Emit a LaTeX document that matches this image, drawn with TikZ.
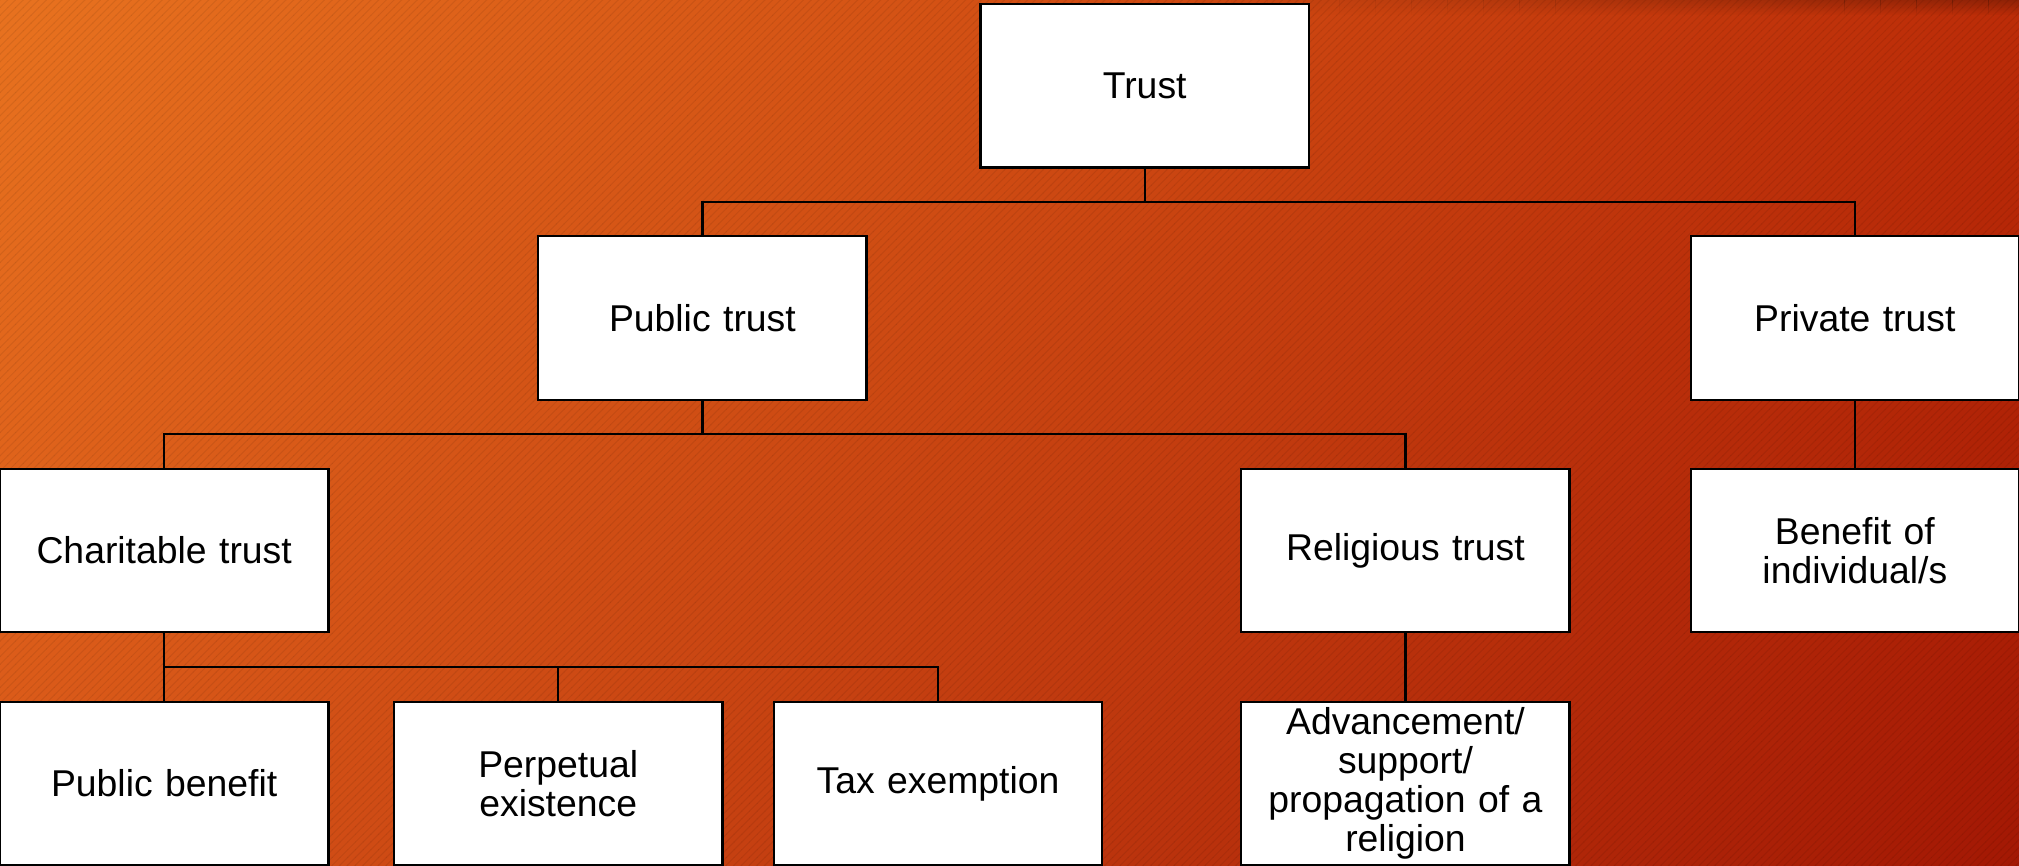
\documentclass[tikz,border=0pt]{standalone}
\usepackage{fontspec}
\setmainfont{Liberation Sans}
\usetikzlibrary{patterns,fadings,shadings}

\definecolor{bgTL}{HTML}{E8721F}
\definecolor{bgTR}{HTML}{BC2C08}
\definecolor{bgBL}{HTML}{D85618}
\definecolor{bgBR}{HTML}{A31804}

\tikzfading[name=fadedown, top color=transparent!0, bottom color=transparent!100]

\tikzset{
  box/.style={draw=black, fill=white, line width=0.9pt, rectangle,
    minimum width=127.5pt, minimum height=63.5pt, inner sep=2pt,
    text width=118pt, align=center,
    font=\fontsize{14.5}{15.2}\selectfont},
  link/.style={draw=black, line width=0.85pt}
}

\begin{document}
\begin{tikzpicture}[x=0.5pt, y=-0.5pt]
  % background: diagonal orange-to-red gradient with fine stripes
  \useasboundingbox (0,0) rectangle (1568,672);
  \shade[upper left=bgTL, upper right=bgTR, lower left=bgBL, lower right=bgBR]
    (0,0) rectangle (1568,672);
  \fill[pattern=north east lines, pattern color=black, opacity=0.07]
    (0,0) rectangle (1568,672);
  % soft shadow along the top edge, growing towards the right
  \foreach \i in {0,...,23} {
    \pgfmathsetmacro{\xa}{900+\i*28}
    \pgfmathsetmacro{\xb}{\xa+28.5}
    \pgfmathsetmacro{\op}{0.01*\i}
    \fill[black, opacity=\op, path fading=fadedown] (\xa,0) rectangle (\xb,12);
  }

  % boxes
  \node[box] (trust) at (889,66.5)    {Trust};
  \node[box] (pub)   at (545.5,247)   {Public trust};
  \node[box] (priv)  at (1440.5,247)  {Private trust};
  \node[box] (char)  at (127.5,427.5) {Charitable trust};
  \node[box] (rel)   at (1091.5,427.5){Religious trust};
  \node[box] (ben)   at (1440.5,427.5){Benefit of\\individual/s};
  \node[box] (pb)    at (127.5,608.5) {Public benefit};
  \node[box] (perp)  at (433.5,608.5) {Perpetual\\existence};
  \node[box] (tax)   at (728.5,608.5) {Tax exemption};
  \node[box] (adv)   at (1091.5,608.5){Advancement/\\support/\\propagation of a\\religion};

  % bus junctions
  \coordinate (b1) at (889,157);
  \coordinate (b2) at (545.5,337);
  \coordinate (b3) at (127.5,518);

  % connectors
  \draw[link] (trust.south) -- (b1);
  \draw[link] (pub.north) |- (b1) -| (priv.north);
  \draw[link] (pub.south) -- (b2);
  \draw[link] (char.north) |- (b2) -| (rel.north);
  \draw[link] (priv.south) -- (ben.north);
  \draw[link] (char.south) -- (pb.north);
  \draw[link] (b3) -| (perp.north);
  \draw[link] (b3) -| (tax.north);
  \draw[link] (rel.south) -- (adv.north);
\end{tikzpicture}
\end{document}
